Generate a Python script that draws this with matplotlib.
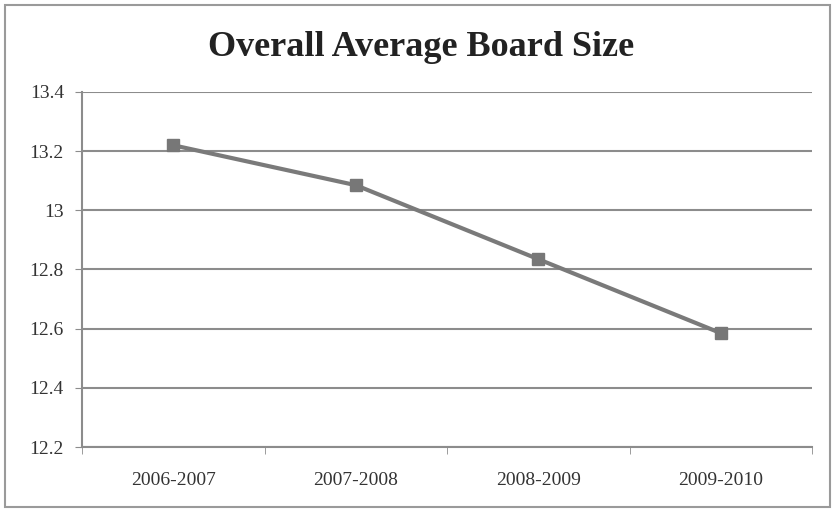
import matplotlib.pyplot as plt
from matplotlib.patches import Rectangle

# board size by season
seasons = ["2006-2007", "2007-2008", "2008-2009", "2009-2010"]
avg_board = [13.22, 13.085, 12.835, 12.585]
y_ticks = [12.2, 12.4, 12.6, 12.8, 13.0, 13.2, 13.4]
y_labels = ["12.2", "12.4", "12.6", "12.8", "13", "13.2", "13.4"]

plt.rcParams['font.family'] = ['Liberation Serif', 'DejaVu Serif']

fig = plt.figure(figsize=(8.35, 5.09), dpi=100)
ax = fig.add_axes([82 / 835, 1 - 447 / 509, 730 / 835, 355 / 509])

# outer chart border
fig.patches.append(Rectangle((5 / 835, 2 / 509), 825 / 835, 502 / 509,
                             transform=fig.transFigure, fill=False,
                             edgecolor="#9a9a9a", linewidth=1.5))

x = list(range(len(seasons)))
ax.plot(x, avg_board, color="#7a7a7a", linewidth=3, marker="s",
        markersize=8, markerfacecolor="#777777", markeredgecolor="#777777",
        zorder=3)

ax.set_xlim(-0.5, len(seasons) - 0.5)
ax.set_ylim(12.2, 13.4)
ax.set_yticks(y_ticks)
ax.set_yticklabels(y_labels)
ax.set_xticks(x)
ax.set_xticklabels(seasons)
ax.set_xticks([i + 0.5 for i in range(-1, len(seasons))], minor=True)

ax.grid(axis="y", color="#8c8c8c", linewidth=1.5)
ax.set_axisbelow(True)
for side in ["top", "right"]:
    ax.spines[side].set_visible(False)
ax.spines["left"].set_color("#8c8c8c")
ax.spines["bottom"].set_color("#8c8c8c")
ax.spines["left"].set_linewidth(1.5)
ax.spines["bottom"].set_linewidth(1.5)

ax.tick_params(axis="y", length=5, color="#8c8c8c", labelsize=14,
               labelcolor="#333333", pad=8)
ax.tick_params(axis="x", which="major", length=0, labelsize=14,
               labelcolor="#333333", pad=18)
ax.tick_params(axis="x", which="minor", length=5, color="#8c8c8c")

fig.text(421 / 835, 1 - 48 / 509, "Overall Average Board Size",
         ha="center", va="center", fontsize=26, fontweight="bold",
         color="#222222")

fig.savefig("out.png", dpi=100)
